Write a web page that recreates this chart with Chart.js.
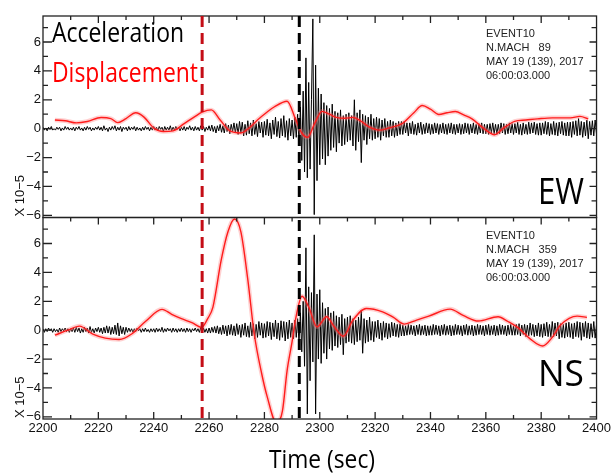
<!DOCTYPE html>
<html>
<head>
<meta charset="utf-8">
<script src="https://cdn.jsdelivr.net/npm/chart.js@4.4.1/dist/chart.umd.min.js"></script>
<style>
  html, body { margin: 0; padding: 0; background: #fff; }
  #wrap { width: 613px; height: 473px; }
</style>
</head>
<body>
<div id="wrap"><canvas id="seis"></canvas></div>
<script>
// time axis
const xTickValues = [2200, 2220, 2240, 2260, 2280, 2300, 2320, 2340, 2360, 2380, 2400];
const xMinorTicks = [2210, 2220, 2230, 2240, 2250, 2260, 2270, 2280, 2290, 2300, 2310, 2320, 2330, 2340, 2350, 2360, 2370, 2380, 2390];
const yTickValues = [-6, -4, -2, 0, 2, 4, 6];
const yMinorTicks = [-6, -5, -4, -3, -2, -1, 0, 1, 2, 3, 4, 5, 6, 7];
const pickTimes = [2257.5, 2292.6];
const pickColors = ['#c40d16', '#000000'];

// acceleration samples, every 0.5 s from 2200 s
const accStart = 2200, accStep = 0.5;
const ewAccel = [
  0.1,-0.1,0.05,-0.15,0.1,-0.05,0.15,-0.1,0,-0.1,0.1,-0.05,0.1,-0.15,0.05,-0.1,0.15,-0.05,0.1,-0.1,
  0.05,-0.1,0.1,-0.15,0.1,-0.05,0.15,-0.1,0.05,-0.15,0.1,-0.1,0.15,-0.05,0.1,-0.15,0.05,-0.1,0.1,-0.05,
  0.15,-0.1,0.1,-0.15,0.2,-0.1,0.05,-0.2,0.1,-0.1,0.15,-0.05,0.2,-0.15,0.1,-0.1,0.15,-0.2,0.1,-0.05,
  0.1,-0.15,0.15,-0.1,0.1,-0.05,0.15,-0.15,0.1,-0.1,0.05,-0.15,0.1,-0.1,0.15,-0.05,0.1,-0.15,0.1,-0.1,
  0.15,-0.1,0.1,-0.15,0.15,-0.05,0.1,-0.2,0.15,-0.1,0.1,-0.1,0.2,-0.15,0.1,-0.1,0.15,-0.05,0.1,-0.15,
  0.1,-0.1,0.15,-0.15,0.1,-0.05,0.2,-0.1,0.1,-0.15,0.15,-0.1,0.1,-0.15,0.2,-0.1,0.15,-0.2,0.1,-0.1,
  0.2,-0.15,0.25,-0.2,0.15,-0.3,0.2,-0.15,0.3,-0.25,0.2,-0.3,0.35,-0.2,0.25,-0.35,0.3,-0.2,0.4,-0.3,
  0.35,-0.4,0.5,-0.3,0.45,-0.5,0.3,-0.45,0.55,-0.35,0.4,-0.5,0.6,-0.4,0.35,-0.55,0.5,-0.3,0.45,-0.6,
  0.5,-0.45,0.65,-0.5,0.4,-0.7,0.6,-0.4,0.8,-0.55,0.5,-0.65,0.7,-0.5,0.9,-0.6,0.55,-0.8,0.7,-0.5,
  0.6,-0.7,0.8,-0.6,1.0,-0.9,1.5,-2.2,2.6,-3.0,4.9,-3.4,3.2,-2.8,2.0,7.6,-5.95,4.4,-3.6,2.8,
  -2.5,2.4,-2.1,1.8,-2.5,1.6,-1.9,1.4,-1.5,1.7,-1.3,1.2,-1.6,1.1,-1.0,1.3,-1.2,0.9,-1.1,1.0,
  -0.9,1.1,-0.8,0.9,-1.2,2.0,-1.5,1.1,-0.9,1.3,-2.35,1.0,-0.8,0.9,-1.1,0.8,-0.7,1.0,-0.8,0.7,
  -0.7,0.8,-0.6,0.7,-0.8,0.6,-0.5,0.7,-0.6,0.5,-0.6,0.6,-0.5,0.5,-0.6,0.4,-0.5,0.5,-0.4,0.5,
  -0.4,0.5,-0.3,0.4,-0.5,0.4,-0.35,0.5,-0.4,0.3,-0.45,0.4,-0.3,0.45,-0.4,0.3,-0.35,0.4,-0.3,0.35,
  -0.4,0.3,-0.35,0.4,-0.3,0.35,-0.4,0.3,-0.3,0.4,-0.35,0.3,-0.4,0.35,-0.3,0.4,-0.35,0.3,-0.4,0.3,
  -0.3,0.35,-0.4,0.3,-0.35,0.4,-0.3,0.35,-0.4,0.3,-0.3,0.4,-0.35,0.3,-0.4,0.35,-0.3,0.4,-0.35,0.3,
  -0.35,0.3,-0.4,0.35,-0.3,0.4,-0.35,0.3,-0.4,0.3,-0.35,0.4,-0.3,0.35,-0.4,0.3,-0.35,0.4,-0.3,0.35,
  -0.4,0.35,-0.3,0.45,-0.4,0.3,-0.45,0.4,-0.35,0.3,-0.4,0.45,-0.35,0.4,-0.3,0.45,-0.4,0.35,-0.45,0.4,
  -0.45,0.4,-0.35,0.5,-0.4,0.45,-0.5,0.35,-0.4,0.5,-0.45,0.4,-0.5,0.45,-0.35,0.5,-0.45,0.4,-0.5,0.45,
  -0.5,0.45,-0.6,0.5,-0.4,0.55,-0.5,0.7,-0.45,0.5,-0.6,0.45,-0.5,0.6,-0.7,0.5,-0.45,0.55,-0.5,0.6,
  -0.4
];
const nsAccel = [
  0.1,-0.15,0.1,-0.1,0.15,-0.05,0.1,-0.15,0.1,-0.1,0.05,-0.15,0.15,-0.1,0.1,-0.05,0.15,-0.1,0.1,-0.15,
  0.1,-0.1,0.15,-0.15,0.2,-0.1,0.15,-0.2,0.1,-0.15,0.2,-0.1,0.15,-0.2,0.25,-0.15,0.1,-0.2,0.15,-0.1,
  0.2,-0.15,0.15,-0.25,0.2,-0.2,0.3,-0.2,0.25,-0.3,0.2,-0.25,0.35,-0.3,0.5,-0.4,0.3,-0.25,0.2,-0.3,
  0.2,-0.15,0.15,-0.1,0.1,-0.15,0.1,-0.1,0.15,-0.05,0.1,-0.15,0.1,-0.1,0.15,-0.1,0.05,-0.15,0.1,-0.1,
  0.1,-0.15,0.15,-0.1,0.1,-0.1,0.2,-0.15,0.1,-0.1,0.15,-0.05,0.1,-0.15,0.15,-0.1,0.1,-0.15,0.1,-0.1,
  0.15,-0.1,0.1,-0.15,0.15,-0.1,0.1,-0.15,0.1,-0.05,0.15,-0.1,0.1,-0.15,0.2,-0.1,0.15,-0.15,0.1,-0.2,
  0.15,-0.2,0.2,-0.15,0.25,-0.2,0.3,-0.25,0.2,-0.3,0.35,-0.25,0.3,-0.4,0.35,-0.3,0.4,-0.35,0.3,-0.4,
  0.45,-0.3,0.35,-0.5,0.4,-0.35,0.5,-0.45,0.3,-0.5,0.55,-0.4,0.45,-0.6,0.4,-0.5,0.6,-0.35,0.5,-0.55,
  0.45,-0.5,0.6,-0.4,0.55,-0.65,0.5,-0.45,0.7,-0.6,0.5,-0.7,0.65,-0.5,0.6,-0.75,0.55,-0.6,0.7,-0.5,
  0.5,-0.6,0.7,-0.5,0.8,-0.9,1.2,-1.5,2.0,-2.5,5.7,-5.8,3.0,-3.5,2.6,-2.2,6.6,-5.8,2.5,-2.0,
  2.8,-2.3,1.9,-1.6,1.5,-2.0,1.6,-1.3,1.2,-1.4,1.3,-1.1,1.0,-1.2,0.9,-1.0,1.1,-1.7,0.8,-0.9,
  0.9,-0.8,1.0,-0.9,0.8,-1.0,0.7,-0.8,0.9,-0.7,1.4,-1.6,0.8,-0.9,0.7,-0.8,0.9,-0.7,0.6,-0.8,
  0.6,-0.5,0.7,-0.6,0.5,-0.7,0.6,-0.5,0.5,-0.6,0.45,-0.5,0.55,-0.4,0.5,-0.45,0.4,-0.5,0.45,-0.4,
  0.35,-0.4,0.3,-0.35,0.4,-0.3,0.35,-0.3,0.3,-0.4,0.35,-0.3,0.4,-0.35,0.3,-0.3,0.35,-0.4,0.3,-0.35,
  0.3,-0.35,0.4,-0.3,0.35,-0.3,0.3,-0.4,0.35,-0.3,0.4,-0.35,0.3,-0.3,0.35,-0.4,0.3,-0.35,0.4,-0.3,
  0.35,-0.3,0.3,-0.4,0.35,-0.3,0.4,-0.35,0.3,-0.3,0.35,-0.4,0.3,-0.35,0.4,-0.3,0.35,-0.3,0.3,-0.4,
  0.35,-0.3,0.4,-0.35,0.3,-0.3,0.35,-0.4,0.3,-0.35,0.4,-0.3,0.35,-0.3,0.3,-0.4,0.35,-0.3,0.4,-0.35,
  0.3,-0.35,0.4,-0.3,0.45,-0.4,0.35,-0.3,0.4,-0.45,0.35,-0.4,0.5,-0.35,0.4,-0.45,0.35,-0.4,0.5,-0.45,
  0.4,-0.5,0.45,-0.4,0.55,-0.45,0.4,-0.5,0.6,-0.45,0.5,-0.4,0.55,-0.6,0.45,-0.5,0.4,-0.55,0.5,-0.45,
  0.55,-0.5,0.45,-0.6,0.5,-0.45,0.6,-0.5,0.55,-0.7,0.5,-0.45,0.6,-0.55,0.5,-0.6,0.45,-0.5,0.6,-0.55,
  0.4
];

// displacement
const ewDispTime = [2204.3, 2208, 2212, 2216, 2221, 2224.5, 2227, 2230, 2233.5, 2236.5, 2240, 2243.5, 2247, 2251, 2255, 2257.5,
  2260.8, 2264, 2267.4, 2271.5, 2274.5, 2277.5, 2281, 2283.5, 2288.2, 2291.2, 2293.5, 2295.6, 2298, 2300.8, 2303.5, 2306,
  2309, 2312, 2315, 2318, 2321.5, 2325, 2329.9, 2334, 2337, 2340, 2343, 2346, 2349, 2352, 2355, 2359, 2363.2, 2366.5,
  2370.4, 2374.5, 2378.7, 2384, 2390.6, 2394, 2397];
const ewDispVal = [0.6, 0.55, 0.4, 0.5, 0.77, 0.7, 0.42, 0.7, 1.1, 0.8, 0.05, -0.2, -0.15, 0.35, 0.85, 1.14,
  1.3, 0.6, -0.14, -0.3, 0.05, 0.6, 1.15, 1.5, 1.9, 0.68, -0.3, -0.6, 0.3, 1.2, 1.0, 0.78,
  0.72, 0.78, 0.5, 0.1, -0.1, 0.05, 0.37, 1.1, 1.6, 1.35, 0.98, 1.1, 1.19, 0.95, 0.68, 0.05, -0.42, 0.05,
  0.51, 0.6, 0.68, 0.75, 0.75, 0.85, 0.68];
const nsDispTime = [2204.3, 2209, 2213.2, 2218, 2222.5, 2227.5, 2232.3, 2237, 2243, 2246.5, 2250, 2254, 2257.3, 2259.5,
  2261.4, 2264.4, 2266.8, 2269.2, 2271.5, 2274, 2276.3, 2279, 2281, 2284.3, 2286.5, 2288.2, 2290, 2291.2, 2293.6, 2296,
  2299, 2302.5, 2305, 2308.5, 2312, 2316.8, 2322.7, 2326.5, 2330.5, 2335, 2339.4, 2347.1, 2352, 2357.3, 2364.4, 2368,
  2371.5, 2376, 2380.5, 2384, 2387, 2393, 2396.5];
const nsDispVal = [-0.35, 0.0, 0.28, -0.28, -0.55, -0.65, -0.23, 0.6, 1.44, 1.1, 0.8, 0.5, 0.19, 0.8,
  1.6, 4.86, 6.8, 7.7, 6.8, 3.5, -0.23, -3.0, -4.6, -6.4, -5.6, -2.8, -0.8, 0.7, 2.35, 1.6,
  0.23, 0.93, 0.3, -0.42, 0.7, 1.5, 1.27, 0.9, 0.42, 0.7, 0.97, 1.46, 1.0, 0.63, 0.93, 0.6,
  0.19, -0.6, -1.1, -0.5, 0.35, 0.97, 0.88];

const panelNames = ['EW', 'NS'];
const stationLines = {
  EW: ['EVENT10', 'N.MACH   89', 'MAY 19 (139), 2017', '06:00:03.000'],
  NS: ['EVENT10', 'N.MACH   359', 'MAY 19 (139), 2017', '06:00:03.000']
};

const narrow = "'Liberation Sans Narrow', 'Liberation Sans', Arial, sans-serif";
const sans = "'Open Sans', 'Noto Sans', sans-serif";

function accelPoints(vals) {
  return vals.map((v, i) => ({ x: accStart + i * accStep, y: v }));
}
function zip(ts, vs) {
  return ts.map((t, i) => ({ x: t, y: vs[i] }));
}
function fmtTick(v) {
  return v < 0 ? '\u2212' + (-v) : String(v);
}

function dispSet(label, data, axis, color, width, order) {
  return {
    label: label, data: data, yAxisID: axis,
    borderColor: color, borderWidth: width,
    pointRadius: 0, cubicInterpolationMode: 'monotone', order: order
  };
}
function accelSet(label, data, axis) {
  return {
    label: label, data: data, yAxisID: axis,
    borderColor: '#000', borderWidth: 1, pointRadius: 0, tension: 0, order: 3
  };
}

function yAxis() {
  return {
    type: 'linear', position: 'left', stack: 'panels', stackWeight: 1,
    min: -6.15, max: 7.8,
    afterBuildTicks: s => { s.ticks = yTickValues.map(v => ({ value: v })); },
    afterFit: s => { s.width = 43; },
    ticks: { callback: v => fmtTick(v), color: '#111', font: { family: narrow, size: 13 }, padding: 2 },
    grid: { display: false, drawTicks: false },
    border: { display: false }
  };
}

// frames, inner tick marks, pick lines and the texts
const panelDecor = {
  id: 'panelDecor',
  afterDatasetsDraw(chart) {
    const { ctx, chartArea: a, scales } = chart;
    const x = scales.x;
    ctx.save();
    ['yEW', 'yNS'].forEach((id, k) => {
      const y = scales[id];
      ctx.strokeStyle = '#222';
      ctx.lineWidth = 1.3;
      ctx.setLineDash([]);
      ctx.strokeRect(a.left, y.top, a.right - a.left, y.bottom - y.top);
      ctx.beginPath();
      yMinorTicks.forEach(v => {
        const py = y.getPixelForValue(v);
        const len = v % 2 === 0 ? 9 : 5;
        ctx.moveTo(a.left, py); ctx.lineTo(a.left + len, py);
        ctx.moveTo(a.right, py); ctx.lineTo(a.right - (v % 2 === 0 ? 7 : 5), py);
      });
      xMinorTicks.forEach(t => {
        const px = x.getPixelForValue(t);
        const len = t % 20 === 0 ? 7 : 4;
        ctx.moveTo(px, y.top); ctx.lineTo(px, y.top + len);
        if (id === 'yNS') { ctx.moveTo(px, y.bottom); ctx.lineTo(px, y.bottom - len); }
      });
      ctx.stroke();

      // x 10^-5 label, rotated
      ctx.save();
      ctx.translate(20, y.bottom);
      ctx.rotate(-Math.PI / 2);
      ctx.fillStyle = '#111';
      ctx.font = '13px ' + narrow;
      ctx.textAlign = 'left';
      ctx.textBaseline = 'middle';
      ctx.fillText('X 10\u22125', 1, 0);
      ctx.restore();

      // station block
      ctx.fillStyle = '#222';
      ctx.font = '11px ' + narrow;
      ctx.textAlign = 'left';
      ctx.textBaseline = 'middle';
      stationLines[panelNames[k]].forEach((line, i) => {
        ctx.fillText(line, 486, y.top + 18 + i * 14, 102);
      });

      // component
      ctx.fillStyle = '#000';
      ctx.font = '37px ' + sans;
      ctx.textBaseline = 'alphabetic';
      ctx.fillText(panelNames[k], 538, y.top + (k === 0 ? 188 : 168), 46);
    });

    // pick lines across both panels
    ctx.lineWidth = 3;
    ctx.setLineDash([11, 6]);
    pickTimes.forEach((t, i) => {
      const px = x.getPixelForValue(t);
      ctx.strokeStyle = pickColors[i];
      ctx.beginPath();
      ctx.moveTo(px, a.top);
      ctx.lineTo(px, a.bottom);
      ctx.stroke();
    });

    ctx.textAlign = 'left';
    ctx.textBaseline = 'alphabetic';
    ctx.font = '27px ' + sans;
    ctx.fillStyle = '#000';
    ctx.fillText('Acceleration', 52, 42, 132);
    ctx.fillStyle = '#ff0000';
    ctx.fillText('Displacement', 52, 82, 146);

    ctx.fillStyle = '#000';
    ctx.textAlign = 'center';
    ctx.font = '25px ' + sans;
    ctx.fillText('Time (sec)', 322, 468, 106);
    ctx.restore();
  }
};

new Chart(document.getElementById('seis'), {
  type: 'line',
  data: {
    datasets: [
      dispSet('EW displacement', zip(ewDispTime, ewDispVal), 'yEW', '#ff1c1c', 1.4, 0),
      dispSet('EW halo', zip(ewDispTime, ewDispVal), 'yEW', 'rgba(255,120,120,0.35)', 4.5, 1),
      accelSet('EW acceleration', accelPoints(ewAccel), 'yEW'),
      dispSet('NS displacement', zip(nsDispTime, nsDispVal), 'yNS', '#ff1c1c', 1.4, 0),
      dispSet('NS halo', zip(nsDispTime, nsDispVal), 'yNS', 'rgba(255,120,120,0.35)', 4.5, 1),
      accelSet('NS acceleration', accelPoints(nsAccel), 'yNS')
    ]
  },
  options: {
    responsive: true,
    maintainAspectRatio: false,
    animation: false,
    layout: { padding: { top: 16, right: 10, left: 0, bottom: 0 } },
    plugins: { legend: { display: false }, tooltip: { enabled: false } },
    scales: {
      x: {
        type: 'linear', min: 2200, max: 2400,
        afterBuildTicks: s => { s.ticks = xTickValues.map(v => ({ value: v })); },
        afterFit: s => { s.height = 54; },
        ticks: { callback: v => String(v), color: '#111', font: { family: narrow, size: 13 }, padding: 2, maxRotation: 0, autoSkip: false },
        grid: { display: false, drawTicks: false },
        border: { display: false }
      },
      yNS: yAxis(),
      yEW: yAxis()
    }
  },
  plugins: [panelDecor]
});
</script>
</body>
</html>
